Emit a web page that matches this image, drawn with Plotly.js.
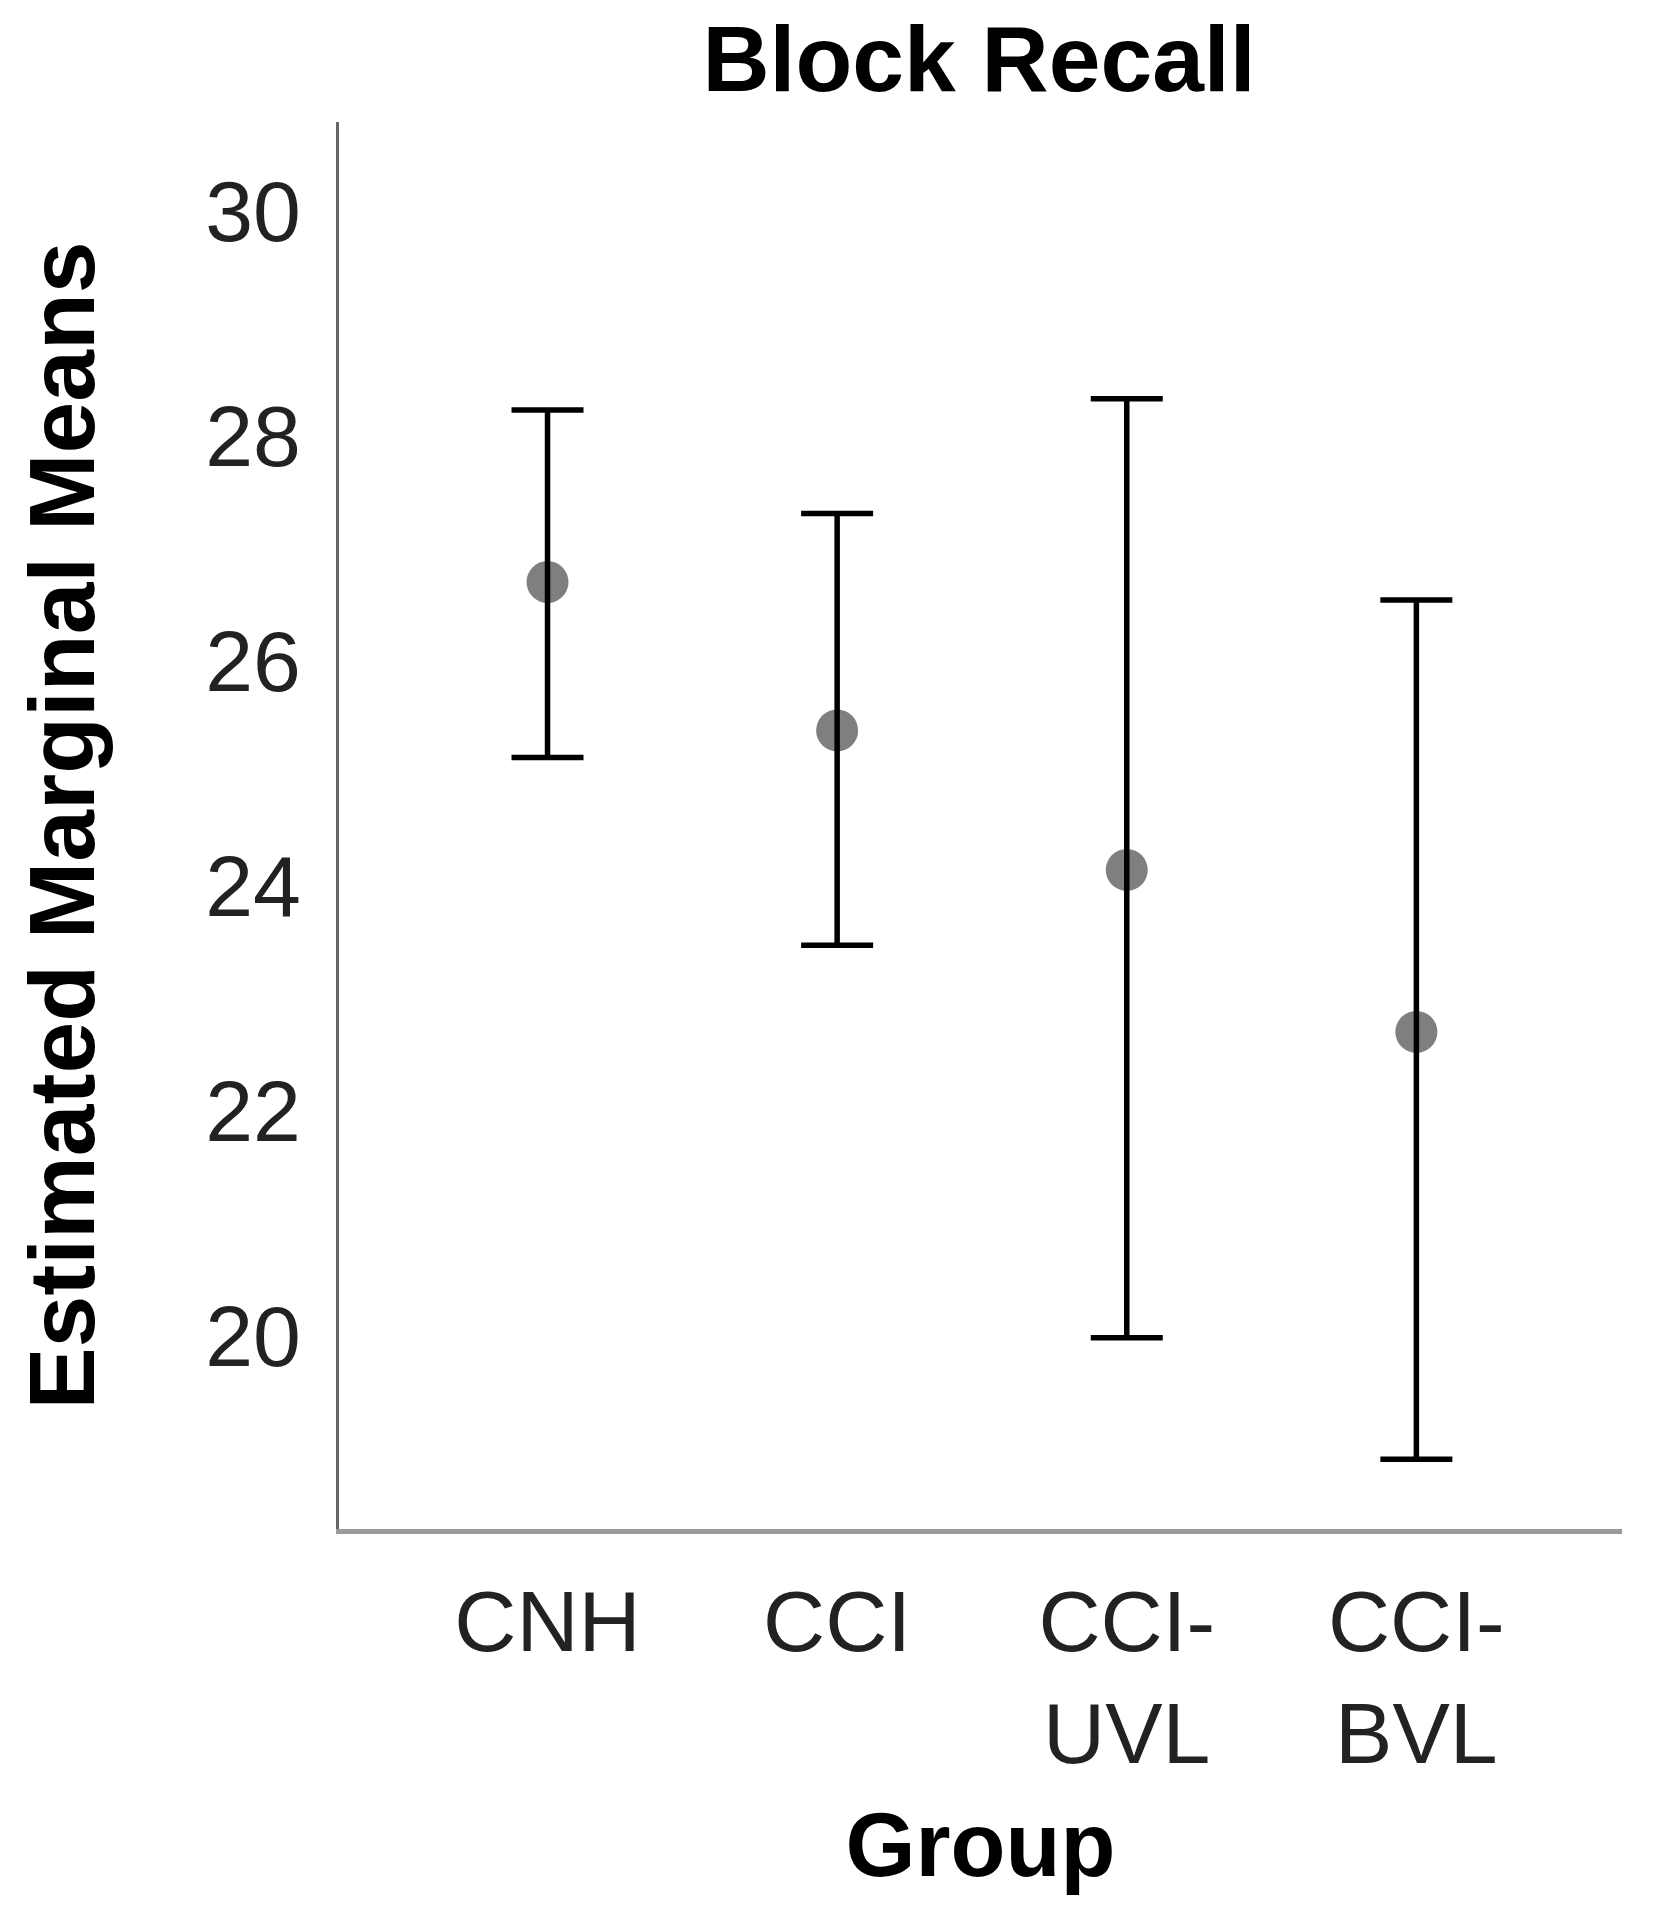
<!DOCTYPE html>
<html>
<head>
<meta charset="utf-8">
<script src="https://cdn.plot.ly/plotly-3.0.1.min.js"></script>
<style>
  html, body { margin: 0; padding: 0; background: #ffffff; }
  #chart { width: 1654px; height: 1920px; }
</style>
</head>
<body>
<div id="chart"></div>
<script>
// ---- Data ----
const groups = ["CNH", "CCI", "CCI-<br>UVL", "CCI-<br>BVL"];
const means  = [26.70, 25.38, 24.14, 22.70];
const upper  = [28.23, 27.31, 28.33, 26.54];
const lower  = [25.14, 23.47, 19.98, 18.90];
const yTickVals = [20, 22, 24, 26, 28, 30];
const yTickText = ["20", "22", "24", "26", "28", "30"];

const xIdx = groups.map((g, i) => i);
const errPlus  = upper.map((u, i) => u - means[i]);
const errMinus = means.map((m, i) => m - lower[i]);

const FONT = "Liberation Sans, Arial, Helvetica, sans-serif";

const trace = {
  type: "scatter",
  mode: "markers",
  x: xIdx,
  y: means,
  marker: { size: 42, color: "rgba(0,0,0,0.5)", line: { width: 0 } },
  error_y: {
    type: "data",
    symmetric: false,
    array: errPlus,
    arrayminus: errMinus,
    color: "#000000",
    thickness: 5.5,
    width: 36,
    visible: true
  },
  hoverinfo: "skip",
  showlegend: false
};

const layout = {
  width: 1654,
  height: 1920,
  paper_bgcolor: "#ffffff",
  plot_bgcolor: "#ffffff",
  margin: { l: 339, r: 32, t: 122, b: 391, autoexpand: false },
  title: {
    text: "<b>Block Recall</b>",
    font: { family: FONT, size: 93, color: "#000000" },
    x: 979 / 1654,
    xanchor: "center",
    xref: "container",
    y: 1 - 58 / 1920,
    yanchor: "middle",
    yref: "container"
  },
  xaxis: {
    range: [-0.72, 3.71],
    tickmode: "array",
    tickvals: xIdx,
    ticktext: groups,
    ticks: "",
    showgrid: false,
    zeroline: false,
    showline: true,
    linecolor: "#9a9a9a",
    linewidth: 5,
    tickfont: { family: FONT, size: 86, color: "#222222" },
    ticklabelstandoff: 14,
    title: {
      text: "<b>Group</b>",
      font: { family: FONT, size: 90, color: "#000000" },
      standoff: 34
    },
    automargin: false,
    fixedrange: true
  },
  yaxis: {
    range: [18.28, 30.79],
    tickmode: "array",
    tickvals: yTickVals,
    ticktext: yTickText,
    ticks: "",
    showgrid: false,
    zeroline: false,
    showline: true,
    linecolor: "#666666",
    linewidth: 3,
    tickfont: { family: FONT, size: 86, color: "#222222" },
    ticklabelstandoff: 18,
    title: {
      text: "<b>Estimated Marginal Means</b>",
      font: { family: FONT, size: 93, color: "#000000" },
      standoff: 80
    },
    automargin: false,
    fixedrange: true
  }
};

Plotly.newPlot("chart", [trace], layout, { staticPlot: true, displayModeBar: false });
</script>
</body>
</html>
